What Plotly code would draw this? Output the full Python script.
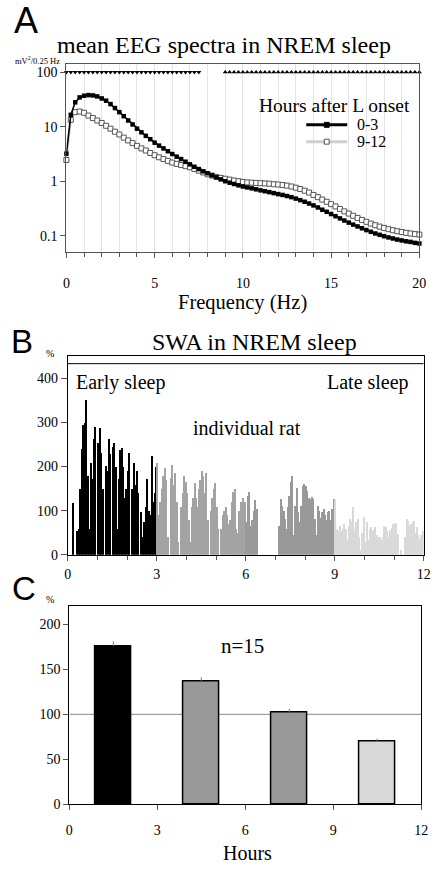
import numpy as np
import plotly.graph_objects as go

# ---------------- Panel A data: mean EEG spectra (0.25 Hz bins) ----------------
freq = np.arange(0, 20.001, 0.25)
eeg_0_3 = [3.2, 16.5, 28, 34.5, 37, 38, 37.5, 36, 33, 30, 26, 22, 18.5, 15.6, 13, 11,
           9.2, 7.9, 6.8, 5.9, 5.1, 4.5, 4.0, 3.55, 3.15, 2.82, 2.55, 2.28, 2.04, 1.84, 1.67, 1.52,
           1.4, 1.28, 1.18, 1.08, 1.0, 0.94, 0.89, 0.84, 0.8, 0.77, 0.74, 0.71, 0.68, 0.655, 0.63, 0.605,
           0.58, 0.56, 0.535, 0.51, 0.48, 0.45, 0.42, 0.39, 0.36, 0.33, 0.30, 0.275, 0.25, 0.228, 0.208, 0.19,
           0.174, 0.16, 0.148, 0.137, 0.127, 0.118, 0.11, 0.104, 0.098, 0.093, 0.089, 0.085, 0.082, 0.079,
           0.077, 0.074, 0.072]
eeg_9_12 = [2.45, 13.4, 18.5, 19, 18, 16, 14.4, 13, 11.7, 10.4, 9.2, 8.1, 7.2, 6.3, 5.6, 5.0,
            4.45, 4.0, 3.66, 3.3, 3.0, 2.75, 2.55, 2.36, 2.2, 2.08, 1.98, 1.89, 1.8, 1.68, 1.56, 1.45,
            1.34, 1.27, 1.2, 1.15, 1.11, 1.07, 1.03, 1.0, 0.97, 0.95, 0.94, 0.93, 0.92, 0.91, 0.9, 0.88,
            0.87, 0.85, 0.83, 0.8, 0.76, 0.72, 0.67, 0.62, 0.56, 0.51, 0.46, 0.42, 0.38, 0.345, 0.31, 0.28,
            0.255, 0.232, 0.212, 0.195, 0.18, 0.167, 0.156, 0.147, 0.139, 0.132, 0.126, 0.121, 0.117, 0.113,
            0.11, 0.107, 0.105]
sig_level = 100
sig_down_max = 7.5      # 0-3 > 9-12 from 0 to 7.5 Hz
sig_up_min = 9.0        # 0-3 < 9-12 from 9 to 20 Hz
legend_labels = ["0-3", "9-12"]

# ---------------- Panel B data: SWA per 3-min bin, individual rat ----------------
bin_h = 0.05
swa_0_3 = [0, 0, 0, 118, 0, 0, 55, 60, 150, 240, 295, 300, 352, 180, 60, 209, 172, 262, 291, 0,
           254, 287, 232, 150, 0, 202, 190, 262, 228, 0, 246, 254, 200, 60, 172, 239, 243, 200, 130, 150,
           190, 232, 0, 150, 209, 160, 190, 140, 0, 97, 40, 75, 110, 172, 100, 90, 224, 120, 140, 200]
swa_3_6 = [209, 90, 120, 150, 179, 198, 170, 40, 0, 175, 205, 160, 185, 120, 30, 0, 110, 140, 179, 165,
           140, 80, 30, 110, 130, 164, 130, 110, 150, 170, 190, 180, 140, 185, 80, 0, 100, 130, 150, 164,
           110, 60, 0, 60, 90, 101, 110, 90, 70, 80, 120, 142, 150, 60, 50, 100, 120, 110, 130, 120]
swa_6_9 = [75, 135, 142, 67, 80, 100, 125, 105, 0, 0, 0, 0, 0, 0, 0, 0, 0, 0, 0, 0,
           0, 0, 67, 127, 112, 101, 82, 60, 110, 135, 165, 179, 45, 112, 153, 97, 75, 112, 157, 161,
           157, 145, 130, 128, 131, 127, 82, 45, 112, 101, 85, 97, 105, 90, 80, 97, 100, 80, 105, 127]
swa_9_12 = [125, 60, 55, 67, 55, 60, 70, 60, 35, 67, 82, 78, 108, 60, 75, 82, 40, 11, 50, 86,
            30, 75, 35, 60, 64, 55, 58, 64, 45, 41, 40, 35, 41, 67, 64, 55, 40, 58, 62, 71,
            73, 70, 48, 0, 11, 0, 0, 40, 82, 78, 67, 70, 74, 78, 50, 64, 45, 37, 45, 55]

# ---------------- Panel C data: mean SWA per 3-h block (n=15) ----------------
block_center = [1.5, 4.5, 7.5, 10.5]
block_mean = [176, 137, 102, 70]
block_sem = [5, 4, 4, 3]

c_black = "#000000"
c_mid1 = "#a3a3a3"
c_mid2 = "#999999"
c_light = "#d9d9d9"
serif = "Liberation Serif"
sans = "Liberation Sans"

fig = go.Figure()

# ---- Panel A ----
fig.add_trace(go.Scatter(x=freq, y=eeg_9_12, mode="lines+markers", name=legend_labels[1],
                         line=dict(color="#c8c8c8", width=2),
                         marker=dict(symbol="square", size=5, color="white",
                                     line=dict(color="#555555", width=1)),
                         cliponaxis=False, xaxis="x", yaxis="y"))
fig.add_trace(go.Scatter(x=freq, y=eeg_0_3, mode="lines+markers", name=legend_labels[0],
                         line=dict(color="black", width=1.6),
                         marker=dict(symbol="square", size=4.5, color="black"),
                         cliponaxis=False, xaxis="x", yaxis="y"))
f_down = [f for f in freq if f <= sig_down_max]
f_up = [f for f in freq if f >= sig_up_min]
fig.add_trace(go.Scatter(x=f_down, y=[sig_level] * len(f_down), mode="markers",
                         marker=dict(symbol="triangle-down", size=4.5, color="black"),
                         cliponaxis=False, xaxis="x", yaxis="y"))
fig.add_trace(go.Scatter(x=f_up, y=[sig_level] * len(f_up), mode="markers",
                         marker=dict(symbol="triangle-up", size=4.5, color="black"),
                         cliponaxis=False, xaxis="x", yaxis="y"))

# ---- Panel B ----
for k, (vals, col) in enumerate([(swa_0_3, c_black), (swa_3_6, c_mid1),
                                 (swa_6_9, c_mid2), (swa_9_12, c_light)]):
    xs = [(k * 60 + i + 0.5) * bin_h for i in range(len(vals))]
    fig.add_trace(go.Bar(x=xs, y=vals, width=bin_h, marker=dict(color=col, line=dict(width=0)),
                         xaxis="x2", yaxis="y2"))

# ---- Panel C ----
fig.add_trace(go.Bar(x=block_center, y=block_mean, width=1.2,
                     marker=dict(color=[c_black, c_mid2, c_mid2, c_light],
                                 line=dict(color="black", width=1.5)),
                     error_y=dict(type="data", array=block_sem, arrayminus=[0] * 4, symmetric=False,
                                  color="#777777", thickness=1, width=0),
                     xaxis="x3", yaxis="y3"))

tickfont = dict(family=serif, size=14, color="black")
common = dict(zeroline=False, tickfont=tickfont, ticklabeloverflow="allow", showgrid=False)
fig.update_layout(
    width=440, height=872, autosize=False, margin=dict(l=0, r=0, t=0, b=0),
    font=dict(family=serif, color="black"),
    paper_bgcolor="white", plot_bgcolor="white", bargap=0, barmode="overlay",
    showlegend=False,
    xaxis=dict(domain=[64 / 440, 426 / 440], range=[0, 20], dtick=5, tick0=0,
               minor=dict(dtick=1, ticks="outside", ticklen=4, tickcolor="#555555",
                          showgrid=True, gridcolor="#e4e4e4"),
               ticks="outside", ticklen=5, tickcolor="#555555", ticklabelstandoff=14,
               showline=True, linecolor="#555555", linewidth=1, mirror=True, anchor="y",
               **{**common, "showgrid": True}, gridcolor="#e4e4e4", gridwidth=1),
    yaxis=dict(domain=[1 - 254 / 872, 1 - 65 / 872], type="log",
               range=[np.log10(0.051), np.log10(139)],
               tickvals=[0.1, 1, 10, 100], ticktext=["0.1", "1", "10", "100"],
               ticks="outside", ticklen=5, tickcolor="#555555",
               showline=True, linecolor="#555555", linewidth=1, mirror=True, anchor="x", **common),
    xaxis2=dict(domain=[65.5 / 440, 430.5 / 440], range=[0, 12], tickvals=[0, 3, 6, 9, 12],
                minor=dict(dtick=1, ticks="outside", ticklen=4, tickcolor="#555555"),
                ticks="outside", ticklen=5, tickcolor="#555555", ticklabelstandoff=1,
                showline=True, linecolor="black", linewidth=1, mirror=True, anchor="y2", **common),
    yaxis2=dict(domain=[1 - 560 / 872, 1 - 359 / 872], range=[0, 451], tickvals=[0, 100, 200, 300, 400],
                ticks="outside", ticklen=6, tickcolor="#555555",
                showline=True, linecolor="black", linewidth=1, mirror=True, anchor="x2", **common),
    xaxis3=dict(domain=[67 / 440, 428 / 440], range=[0, 12], tickvals=[0, 3, 6, 9, 12],
                ticks="outside", ticklen=5, tickcolor="#555555", ticklabelstandoff=8,
                showline=True, linecolor="black", linewidth=1, mirror=True, anchor="y3", **common),
    yaxis3=dict(domain=[1 - 811.7 / 872, 1 - 612 / 872], range=[0, 220],
                tickvals=[0, 50, 100, 150, 200],
                ticks="outside", ticklen=5, tickcolor="#555555",
                showline=True, linecolor="black", linewidth=1, mirror=True, anchor="x3", **common),
)

# strip line at the top of panel B and reference line at 100 in panel C
fig.add_shape(type="line", xref="x2", yref="y2", x0=0, x1=12, y0=433, y1=433,
              line=dict(color="black", width=1))
fig.add_shape(type="line", xref="x3", yref="y3", x0=0, x1=12, y0=100, y1=100,
              line=dict(color="#888888", width=1), layer="below")


def px(x, y):
    return x / 440, 1 - y / 872


def ann(text, x, y, size, family=serif, xanchor="center"):
    fx, fy = px(x, y)
    fig.add_annotation(text=text, x=fx, y=fy, xref="paper", yref="paper",
                       showarrow=False, xanchor=xanchor, yanchor="middle", borderpad=0,
                       font=dict(family=family, size=size, color="black"))


# ---- hand-drawn legend keys for panel A ----
for (ly, lcol, fill, edge, lab) in [(126, "black", "black", "black", legend_labels[0]),
                                   (143, "#cfcfcf", "white", "#555555", legend_labels[1])]:
    x0, y0 = px(310, ly)
    x1, _ = px(352, ly)
    fig.add_shape(type="line", xref="paper", yref="paper", x0=x0, x1=x1, y0=y0, y1=y0,
                  line=dict(color=lcol, width=3))
    a0, b0 = px(328.5, ly - 2.5)
    a1, b1 = px(333.5, ly + 2.5)
    fig.add_shape(type="rect", xref="paper", yref="paper", x0=a0, x1=a1, y0=b1, y1=b0,
                  fillcolor=fill, line=dict(color=edge, width=1))
    ann(lab, 361, ly, 16, xanchor="left")

ann("A", 23, 21, 36, sans)
ann("mean EEG spectra in NREM sleep", 226, 45, 24)
ann("mV<sup>2</sup>/0.25 Hz", 34, 61, 8.5)
ann("Frequency (Hz)", 245, 305, 20.5)
ann("Hours after L onset", 260, 106, 19.5, xanchor="left")
ann("B", 18, 345, 33, sans)
ann("%", 47, 357, 10)
ann("SWA in NREM sleep", 257, 345, 24)
ann("Early sleep", 73, 386, 20, xanchor="left")
ann("Late sleep", 416, 386, 20, xanchor="right")
ann("individual rat", 249, 432, 20)
ann("C", 20, 594, 33, sans)
ann("%", 47, 605, 10)
ann("n=15", 245, 652, 21)
ann("Hours", 250, 861, 20)

css = ("var s=document.createElement('style');"
       "s.textContent='html,body{margin:0!important;padding:0!important;overflow:hidden!important;"
       "width:440px;height:872px;}';"
       "document.head.appendChild(s);")
fig.write_html("out.html", config={"displayModeBar": False, "responsive": False},
               post_script=css)
